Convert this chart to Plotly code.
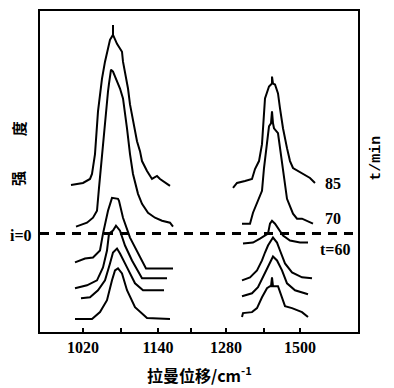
import plotly.graph_objects as go

# ---- data (x: relative Raman-shift position units, y: intensity units incl. stacking offset) ----
tick_positions = [43, 81, 118, 151, 186, 224, 260]
tick_labels = ["<b>1020</b>", "", "<b>1140</b>", "", "<b>1280</b>", "", "<b>1500</b>"]

# left band (~1080 cm-1)
left_85_x = [31, 43, 50, 52, 55, 57, 58, 62, 65, 70, 73, 73, 73, 77, 82, 83, 88, 90, 95, 97, 100, 102, 107, 112, 117, 120, 130]
left_85_y = [148, 150, 154, 159, 179, 205, 222, 255, 272, 294, 299, 309, 299, 290, 282, 272, 245, 229, 205, 192, 182, 172, 162, 154, 157, 154, 147]
left_70_x = [36, 47, 53, 57, 59, 62, 64, 66, 68, 69, 71, 73, 77, 80, 83, 85, 87, 90, 93, 98, 102, 108, 115, 122, 130, 133]
left_70_y = [106, 110, 115, 122, 145, 179, 205, 222, 242, 250, 264, 262, 252, 245, 235, 222, 205, 179, 159, 139, 129, 120, 115, 112, 110, 106]
left_60_x = [35, 45, 53, 60, 63, 68, 72, 78, 79, 83, 90, 100, 106, 133]
left_60_y = [70, 74, 75, 82, 99, 122, 135, 134, 132, 115, 95, 75, 64, 64]
left_a_x = [35, 47, 57, 63, 67, 69, 73, 76, 80, 85, 92, 102, 127]
left_a_y = [44, 47, 52, 65, 82, 99, 102, 107, 102, 87, 72, 54, 54]
left_b_x = [41, 50, 58, 65, 70, 73, 77, 80, 87, 95, 103, 124]
left_b_y = [34, 35, 42, 52, 69, 80, 84, 79, 65, 49, 42, 42]
left_c_x = [35, 52, 60, 67, 72, 75, 78, 82, 87, 95, 107, 130]
left_c_y = [13, 13, 20, 32, 52, 62, 64, 59, 42, 25, 14, 13]

# right band (~1400 cm-1)
right_85_x = [193, 197, 205, 212, 215, 219, 222, 223, 225, 229, 232, 232, 233, 235, 238, 240, 243, 247, 250, 253, 258, 263, 270, 275]
right_85_y = [145, 150, 152, 154, 164, 172, 189, 209, 235, 247, 250, 257, 250, 249, 240, 225, 205, 185, 172, 165, 162, 159, 155, 150]
right_70_x = [202, 210, 213, 218, 222, 224, 227, 229, 231, 232, 233, 234, 238, 240, 242, 245, 247, 253, 257, 262, 267, 273]
right_70_y = [109, 109, 120, 132, 142, 165, 189, 207, 210, 222, 210, 205, 200, 185, 169, 145, 134, 119, 114, 114, 112, 109]
right_60_x = [203, 213, 220, 225, 228, 230, 232, 235, 238, 243, 250, 260, 268]
right_60_y = [89, 90, 94, 97, 99, 109, 112, 109, 104, 97, 92, 90, 90]
right_a_x = [202, 210, 217, 222, 225, 228, 233, 237, 240, 245, 252, 262, 272]
right_a_y = [52, 55, 62, 72, 80, 87, 95, 90, 82, 69, 60, 55, 54]
right_b_x = [202, 212, 218, 225, 230, 233, 237, 242, 247, 255, 268]
right_b_y = [36, 39, 45, 59, 70, 76, 72, 62, 49, 42, 38]
right_c_x = [202, 203, 212, 217, 222, 227, 230, 231, 232, 233, 238, 242, 245, 252, 262, 268]
right_c_y = [15, 19, 20, 24, 35, 44, 46, 46, 55, 46, 46, 35, 26, 24, 20, 15]

series = [
    (left_85_x, left_85_y), (left_70_x, left_70_y), (left_60_x, left_60_y),
    (left_a_x, left_a_y), (left_b_x, left_b_y), (left_c_x, left_c_y),
    (right_85_x, right_85_y), (right_70_x, right_70_y), (right_60_x, right_60_y),
    (right_a_x, right_a_y), (right_b_x, right_b_y), (right_c_x, right_c_y),
]

time_labels = ["85", "70", "t=60"]
time_label_x = [283, 283, 278]
time_label_y = [149, 114, 83]
zero_line_y = 99

x_range = [0, 318]
y_range = [0, 323]

fig = go.Figure()
for xs, ys in series:
    fig.add_trace(go.Scatter(x=xs, y=ys, mode="lines",
                             line=dict(color="black", width=2), showlegend=False,
                             hoverinfo="skip"))

# dashed i=0 line
fig.add_trace(go.Scatter(x=x_range, y=[zero_line_y, zero_line_y], mode="lines",
                         line=dict(color="black", width=3, dash="9px,7px"),
                         showlegend=False, hoverinfo="skip"))

serif = "Liberation Serif"
cjk = "Noto Sans CJK SC"

annotations = []
for t, xx, yy in zip(time_labels, time_label_x, time_label_y):
    annotations.append(dict(x=xx, y=yy, xref="x", yref="y", text="<b>" + t + "</b>", showarrow=False,
                            xanchor="left", yanchor="middle",
                            font=dict(family=serif, size=16, color="black")))
annotations.append(dict(x=-0.02, y=0.30, xref="paper", yref="paper", text="<b>i=0</b>", showarrow=False,
                        xanchor="right", yanchor="middle",
                        font=dict(family=serif, size=16, color="black")))
annotations.append(dict(x=-0.069, y=0.477, xref="paper", yref="paper", text="<b>强</b>", showarrow=False,
                        textangle=-90, xanchor="center", yanchor="middle",
                        font=dict(family=cjk, size=15, color="black")))
annotations.append(dict(x=-0.069, y=0.632, xref="paper", yref="paper", text="<b>度</b>", showarrow=False,
                        textangle=-90, xanchor="center", yanchor="middle",
                        font=dict(family=cjk, size=15, color="black")))
annotations.append(dict(x=1.06, y=0.54, xref="paper", yref="paper", text="<b>t/min</b>", showarrow=False,
                        textangle=-90, xanchor="center", yanchor="middle",
                        font=dict(family="Liberation Mono", size=15, color="black")))
annotations.append(dict(x=0.5, y=-0.133, xref="paper", yref="paper",
                        text="<b>拉曼位移/cm<sup>-1</sup></b>", showarrow=False,
                        xanchor="center", yanchor="middle",
                        font=dict(family=cjk, size=16, color="black")))

fig.update_layout(
    width=394, height=388,
    margin=dict(l=40, r=36, t=9, b=56),
    paper_bgcolor="white", plot_bgcolor="white",
    annotations=annotations,
    xaxis=dict(range=x_range, tickmode="array", tickvals=tick_positions, ticktext=tick_labels,
               ticks="inside", ticklen=4, tickwidth=2, tickcolor="black",
               showline=True, linecolor="black", linewidth=2, mirror=True,
               showgrid=False, zeroline=False,
               tickfont=dict(family=serif, size=16, color="black")),
    yaxis=dict(range=y_range, showticklabels=False, ticks="",
               showline=True, linecolor="black", linewidth=2, mirror=True,
               showgrid=False, zeroline=False),
)

fig.write_html("out.html", config={"displayModeBar": False},
               post_script="document.body.style.margin='0px';document.body.style.overflow='hidden';")
